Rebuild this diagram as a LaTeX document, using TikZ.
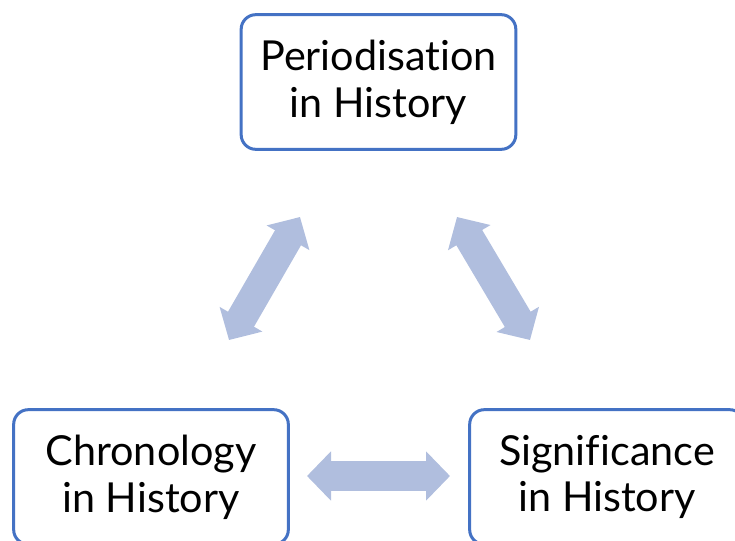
\documentclass[tikz,border=0pt]{standalone}
\usepackage{fontspec}
\setmainfont{Lato}[Ligatures=NoCommon]
\usetikzlibrary{arrows.meta}

\definecolor{boxblue}{HTML}{4472C4}
\definecolor{arrowblue}{HTML}{B0BEDE}

\begin{document}
\begin{tikzpicture}[x=0.75pt,y=-0.75pt,
  topic/.style={draw=boxblue, line width=2.25pt, rounded corners=11pt,
    minimum width=206pt, minimum height=101pt, inner sep=0pt,
    align=center, font=\fontsize{31}{35}\selectfont},
  link/.style={draw=arrowblue, line width=22.5pt,
    {Triangle[length=18pt,width=36pt]}-{Triangle[length=18pt,width=36pt]}}]

\path[use as bounding box, clip] (0,0) rectangle (735,540);

%% topics
\node[topic] (period) at (378.5,82) {Periodisation\\in History};
\node[topic] (chrono) at (151,477)  {Chronology\\in History};
\node[topic] (signif) at (607,477)  {Significance\\in History};

%% arrow ends
\coordinate (pc) at (300,217);   %% period -> chrono
\coordinate (cp) at (229,340);   %% chrono -> period
\coordinate (ps) at (457,217);   %% period -> signif
\coordinate (sp) at (530,340);   %% signif -> period
\coordinate (cs) at (307,476);   %% chrono -> signif
\coordinate (sc) at (450,476);   %% signif -> chrono

%% links
\draw[link] (cp) -- (pc);
\draw[link] (ps) -- (sp);
\draw[link] (cs) -- (sc);

\end{tikzpicture}
\end{document}
